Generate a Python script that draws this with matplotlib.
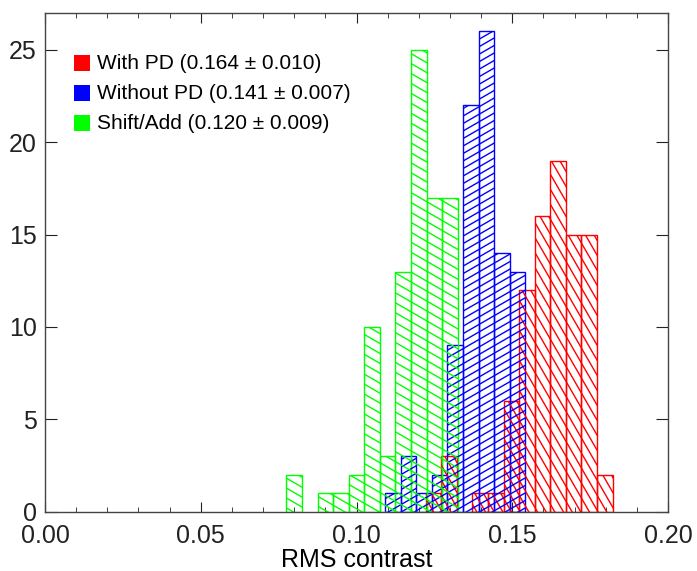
## RMS contrast histograms (hatched, IDL style)

import numpy as np
import matplotlib
matplotlib.use('Agg')
import matplotlib.pyplot as plt
from matplotlib.patches import Rectangle
from matplotlib.lines import Line2D
from matplotlib.transforms import IdentityTransform, ScaledTranslation
from matplotlib.ticker import MultipleLocator, FormatStrFormatter

plt.rcParams['font.family'] = ['Liberation Sans', 'DejaVu Sans']

# bin centres and counts
red_x = [0.1247, 0.1297, 0.1347, 0.1397, 0.1447, 0.1497, 0.1547, 0.1597, 0.1647, 0.1697, 0.1747, 0.1797]
red_n = [1, 3, 0, 1, 1, 6, 12, 16, 19, 15, 15, 2]
blue_x = [0.1117, 0.1167, 0.1217, 0.1267, 0.1317, 0.1367, 0.1417, 0.1467, 0.1517]
blue_n = [1, 3, 1, 2, 9, 22, 26, 14, 13]
green_x = [0.080, 0.085, 0.090, 0.095, 0.100, 0.105, 0.110, 0.115, 0.120, 0.125, 0.130]
green_n = [2, 0, 1, 1, 2, 10, 3, 13, 25, 17, 17]

labels = ['With PD (0.164 \u00b1 0.010)',
          'Without PD (0.141 \u00b1 0.007)',
          'Shift/Add (0.120 \u00b1 0.009)']
colors = ['#ff0000', '#0000ff', '#00ff00']
binw = 0.005

fig = plt.figure(figsize=(6.97, 5.71), dpi=100)
ax = fig.add_axes([0.0646, 0.104, 0.8938, 0.8732])
ax.set_xlim(0, 0.2)
ax.set_ylim(0, 27)


def hatch(ax, bars, color, angle, spacing):
    # line fill in pixel space, anchored globally like IDL's line_fill
    th = np.radians(angle)
    d = np.array([np.cos(th), np.sin(th)])
    nrm = np.array([-np.sin(th), np.cos(th)])
    for b in bars:
        bb = b.get_window_extent()
        corners = np.array([[bb.x0, bb.y0], [bb.x1, bb.y0], [bb.x0, bb.y1], [bb.x1, bb.y1]])
        proj = corners @ nrm
        c = np.array([(bb.x0 + bb.x1) / 2, (bb.y0 + bb.y1) / 2])
        L = np.hypot(bb.width, bb.height)
        for k in range(int(np.floor(proj.min() / spacing)), int(np.ceil(proj.max() / spacing)) + 1):
            p0 = k * spacing * nrm
            pc = p0 + ((c - p0) @ d) * d
            a, e = pc - L * d, pc + L * d
            ln = Line2D([a[0], e[0]], [a[1], e[1]], color=color, lw=1.0,
                        transform=IdentityTransform())
            ax.add_artist(ln)
            ln.set_clip_path(b)


series = [(red_x, red_n, -60, 7.5), (blue_x, blue_n, 30, 6.5), (green_x, green_n, -30, 8.6)]
for (xs, ns, ang, sp), col in zip(series, colors):
    xs = np.array(xs)
    ns = np.array(ns)
    m = ns > 0
    bars = ax.bar(xs[m], ns[m], width=binw, fill=False, edgecolor=col, linewidth=1.0)
    hatch(ax, bars, col, ang, sp)

# legend
for i, (lab, col) in enumerate(zip(labels, colors)):
    yc = 0.8997 - i * 0.0603
    ax.add_patch(Rectangle((0.0465, yc - 0.016), 0.0257, 0.032, transform=ax.transAxes,
                           facecolor=col, edgecolor='none'))
    ax.text(0.0835, yc, lab, transform=ax.transAxes, fontsize=15, va='center', ha='left')

ax.xaxis.set_major_locator(MultipleLocator(0.05))
ax.xaxis.set_minor_locator(MultipleLocator(0.01))
ax.xaxis.set_major_formatter(FormatStrFormatter('%.2f'))
ax.yaxis.set_major_locator(MultipleLocator(5))
ax.tick_params(axis='both', which='both', direction='in', top=True, right=True,
               labelsize=18, colors='#222222')
ax.tick_params(axis='x', which='major', length=7, pad=9)
ax.tick_params(axis='x', which='minor', length=3.6)
ax.tick_params(axis='y', which='major', length=8.6, pad=6)
for s in ax.spines.values():
    s.set_color('#444444')
    s.set_linewidth(1.0)

# IDL nudges the bottom y label up off the axis
fig.canvas.draw()
ylab0 = ax.yaxis.get_majorticklabels()[0]
ylab0.set_transform(ylab0.get_transform() + ScaledTranslation(0, 6 / 72, fig.dpi_scale_trans))

ax.set_xlabel('RMS contrast', fontsize=18, labelpad=0)

fig.savefig('out.png', dpi=100)
